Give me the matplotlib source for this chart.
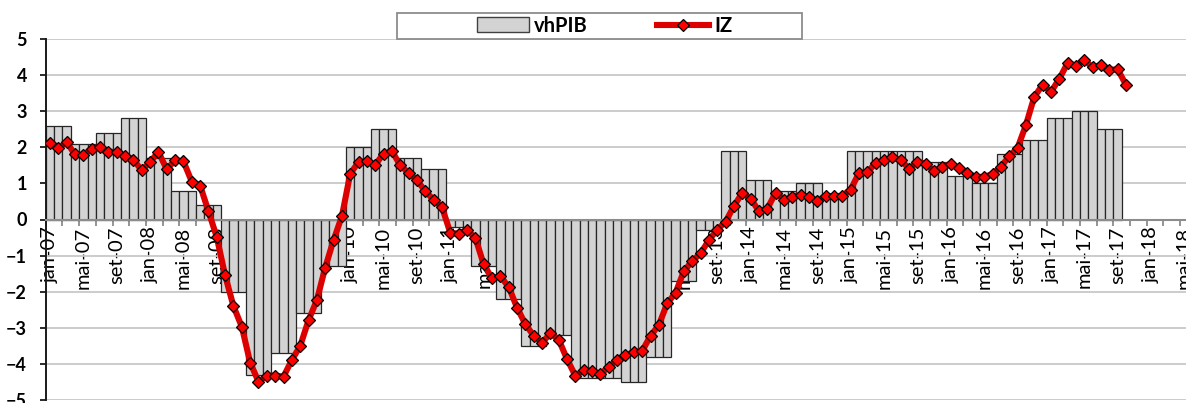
import numpy as np
import matplotlib
matplotlib.use("Agg")
import matplotlib.pyplot as plt
from matplotlib.lines import Line2D
from matplotlib.patches import Patch, Rectangle

plt.rcParams['font.family'] = ['Lato', 'DejaVu Sans']

# eixo mensal: jan-07 ... mai-18
meses = ['jan', 'fev', 'mar', 'abr', 'mai', 'jun', 'jul', 'ago', 'set', 'out', 'nov', 'dez']
categorias = [f'{m}-{a:02d}' for a in range(7, 19) for m in meses][:137]

# vhPIB trimestral (1T07 ... 3T17)
vhpib_trim = [2.6, 2.1, 2.4, 2.8,
              1.7, 0.8, 0.4, -2.0,
              -4.3, -3.7, -2.6, -1.3,
              2.0, 2.5, 1.7, 1.4,
              -0.2, -1.3, -2.2, -3.5,
              -3.2, -4.4, -4.4, -4.5,
              -3.8, -1.7, -0.3, 1.9,
              1.1, 0.8, 1.0, 0.7,
              1.9, 1.9, 1.9, 1.6,
              1.2, 1.0, 1.8, 2.2,
              2.8, 3.0, 2.5]

# IZ mensal (jan-07 ... out-17)
iz = [2.12, 1.98, 2.14, 1.80, 1.79, 1.96, 2.01, 1.88, 1.86, 1.76, 1.66, 1.36,
      1.59, 1.87, 1.39, 1.64, 1.61, 1.05, 0.94, 0.23, -0.49, -1.55, -2.40, -2.97,
      -3.96, -4.49, -4.33, -4.32, -4.35, -3.89, -3.50, -2.79, -2.23, -1.33, -0.57, 0.09,
      1.27, 1.59, 1.61, 1.52, 1.82, 1.89, 1.50, 1.29, 1.09, 0.78, 0.55, 0.34,
      -0.37, -0.39, -0.29, -0.51, -1.24, -1.63, -1.57, -1.87, -2.44, -2.90, -3.22, -3.41,
      -3.15, -3.33, -3.87, -4.33, -4.16, -4.19, -4.28, -4.07, -3.90, -3.76, -3.67, -3.64,
      -3.22, -2.92, -2.32, -2.03, -1.43, -1.15, -0.94, -0.57, -0.28, -0.06, 0.37, 0.74,
      0.58, 0.23, 0.30, 0.74, 0.55, 0.62, 0.69, 0.62, 0.51, 0.66, 0.64, 0.66,
      0.83, 1.29, 1.31, 1.57, 1.64, 1.72, 1.64, 1.41, 1.59, 1.55, 1.33, 1.46,
      1.54, 1.42, 1.28, 1.18, 1.18, 1.26, 1.46, 1.75, 1.98, 2.61, 3.39, 3.73,
      3.53, 3.89, 4.33, 4.26, 4.42, 4.21, 4.28, 4.14, 4.16, 3.73]

# cada trimestre ocupa tres meses no grafico
vhpib_mensal = np.repeat(vhpib_trim, 3)

W, H = 1186, 403
fig = plt.figure(figsize=(W / 100, H / 100), dpi=100)
x0, y_top, y_bot = 45.8, 38.9, 400.1
ax = fig.add_axes([x0 / W, (H - y_bot) / H, (W - x0) / W, (y_bot - y_top) / H])

ax.bar(np.arange(len(vhpib_mensal)), vhpib_mensal, width=1.0, color='#D3D3D3',
       edgecolor='#262626', linewidth=0.9, zorder=2)
ax.plot(np.arange(len(iz)), iz, color='#DD0000', lw=4.4, marker='D', ms=6,
        mfc='#FF0000', mec='black', mew=0.9, zorder=3)

ax.set_ylim(-5, 5)
ax.set_xlim(-0.5, (W - x0) / 8.341 - 0.5)
ax.set_yticks(range(-5, 6))
ax.grid(axis='y', color='#C8C8C8', lw=1.3, zorder=0)
ax.set_axisbelow(True)

ax.spines['top'].set_visible(False)
ax.spines['right'].set_visible(False)
ax.spines['bottom'].set_position(('data', 0))
ax.spines['bottom'].set_color('#8C8C8C')
ax.spines['bottom'].set_linewidth(1.5)
ax.spines['bottom'].set_zorder(2.5)
ax.spines['left'].set_color('#1A1A1A')
ax.spines['left'].set_linewidth(1.4)

ax.set_xticks(np.arange(0, len(categorias), 4))
ax.set_xticklabels(categorias[::4], rotation=90, fontsize=14.5)
ax.set_xticks(np.arange(-0.5, len(categorias), 2), minor=True)
ax.tick_params(axis='x', which='major', length=0, pad=5)
ax.tick_params(axis='x', which='minor', length=4, width=1.3, color='#8C8C8C')
ax.tick_params(axis='y', length=4.5, width=1.3, color='#1A1A1A', pad=9, labelsize=13)
for t in ax.get_yticklabels():
    t.set_fontweight('bold')

handles = [Patch(facecolor='#D3D3D3', edgecolor='#404040', lw=1.0),
           Line2D([], [], color='#DD0000', lw=4.4, marker='D', ms=6,
                  mfc='#FF0000', mec='black', mew=0.9)]
fig.legend(handles, ['vhPIB', 'IZ'], loc='center',
           bbox_to_anchor=(604.5 / W, 1 - 25.7 / H), ncol=2, frameon=False,
           handlelength=2.6, handleheight=0.72, handletextpad=0.25,
           columnspacing=3.4, prop={'weight': 'bold', 'size': 14.5})
fig.add_artist(Rectangle((397 / W, 1 - 38.7 / H), (801.7 - 397) / W, 26 / H,
                         transform=fig.transFigure, fill=False,
                         edgecolor='#8C8C8C', lw=1.3))

fig.savefig('out.png', dpi=100)
